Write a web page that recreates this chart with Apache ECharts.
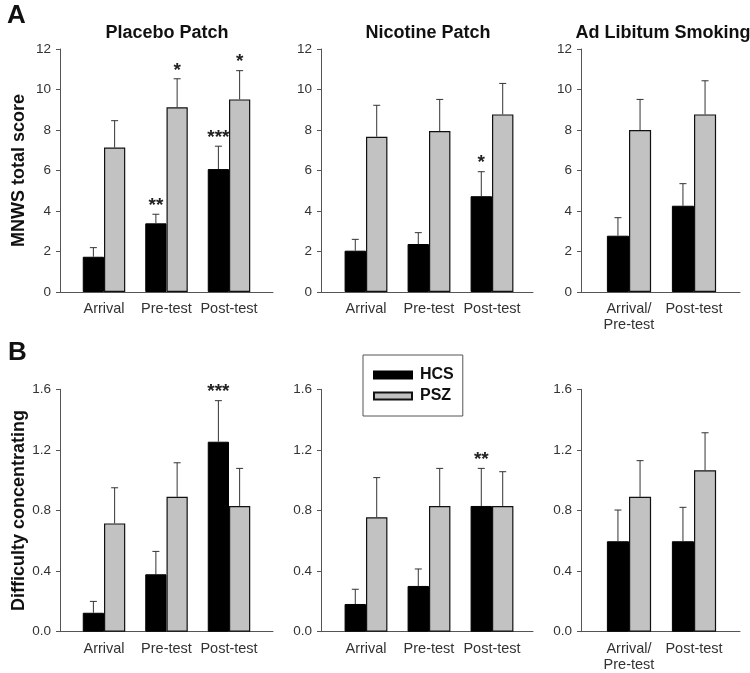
<!DOCTYPE html>
<html><head><meta charset="utf-8">
<script src="https://cdn.jsdelivr.net/npm/echarts@6/dist/echarts.min.js"></script>
<style>html,body{margin:0;padding:0;background:#fff}#c{width:750px;height:673px}</style>
</head><body><div id="c"></div>
<script>
// ---------- data ----------
const catsPatch = ['Arrival', 'Pre-test', 'Post-test'];
const catsAdLib = ['Arrival/\nPre-test', 'Post-test'];
const panelTitles = ['Placebo Patch', 'Nicotine Patch', 'Ad Libitum Smoking'];
const rowNames = ['MNWS total score', 'Difficulty concentrating'];
const mnwsTicks = [0, 12, 2];       // min, max, interval
const diffTicks = [0, 1.6, 0.4];

// MNWS total score (mean, SEM)
const mnwsPlaceboHCS = [1.74, 3.39, 6.07];
const mnwsPlaceboHCSErr = [0.45, 0.45, 1.13];
const mnwsPlaceboPSZ = [7.13, 9.12, 9.51];
const mnwsPlaceboPSZErr = [1.33, 1.41, 1.42];
const mnwsNicotineHCS = [2.04, 2.37, 4.73];
const mnwsNicotineHCSErr = [0.56, 0.56, 1.21];
const mnwsNicotinePSZ = [7.67, 7.95, 8.77];
const mnwsNicotinePSZErr = [1.55, 1.56, 1.53];
const mnwsAdLibHCS = [2.78, 4.26];
const mnwsAdLibHCSErr = [0.89, 1.09];
const mnwsAdLibPSZ = [8.0, 8.77];
const mnwsAdLibPSZErr = [1.51, 1.66];

// Difficulty concentrating (mean, SEM)
const diffPlaceboHCS = [0.125, 0.379, 1.254];
const diffPlaceboHCSErr = [0.075, 0.151, 0.271];
const diffPlaceboPSZ = [0.715, 0.89, 0.83];
const diffPlaceboPSZErr = [0.235, 0.225, 0.248];
const diffNicotineHCS = [0.183, 0.302, 0.83];
const diffNicotineHCSErr = [0.097, 0.112, 0.248];
const diffNicotinePSZ = [0.755, 0.83, 0.83];
const diffNicotinePSZErr = [0.262, 0.248, 0.226];
const diffAdLibHCS = [0.597, 0.597];
const diffAdLibHCSErr = [0.206, 0.224];
const diffAdLibPSZ = [0.89, 1.065];
const diffAdLibPSZErr = [0.239, 0.248];

// significance markers
const sigMnwsPlaceboHCS = ['', '**', '***'];
const sigMnwsPlaceboPSZ = ['', '*', '*'];
const sigMnwsNicotineHCS = ['', '', '*'];
const sigDiffPlaceboHCS = ['', '', '***'];
const sigDiffNicotineHCS = ['', '', '**'];
const noSig3 = ['', '', ''];
const noSig2 = ['', ''];

// ---------- layout ----------
const FONT = '"Liberation Sans", Arial, sans-serif';
const colDefs = [
  {axis: 60, left: 72.75, width: 187.5, frameW: 213, titleX: 167},
  {axis: 321, left: 334.5, width: 189, frameW: 212, titleX: 428},
  {axis: 581, left: 596.5, width: 130, frameW: 159, titleX: 663}
];
const rowDefs = [
  {top: 49, height: 243, ticks: mnwsTicks, dec: 0},
  {top: 389.3, height: 242.4, ticks: diffTicks, dec: 1}
];

const panels = [
  {row: 0, col: 0, cats: catsPatch, hcs: mnwsPlaceboHCS, hcsErr: mnwsPlaceboHCSErr, psz: mnwsPlaceboPSZ, pszErr: mnwsPlaceboPSZErr, hcsSig: sigMnwsPlaceboHCS, pszSig: sigMnwsPlaceboPSZ},
  {row: 0, col: 1, cats: catsPatch, hcs: mnwsNicotineHCS, hcsErr: mnwsNicotineHCSErr, psz: mnwsNicotinePSZ, pszErr: mnwsNicotinePSZErr, hcsSig: sigMnwsNicotineHCS, pszSig: noSig3},
  {row: 0, col: 2, cats: catsAdLib, hcs: mnwsAdLibHCS, hcsErr: mnwsAdLibHCSErr, psz: mnwsAdLibPSZ, pszErr: mnwsAdLibPSZErr, hcsSig: noSig2, pszSig: noSig2},
  {row: 1, col: 0, cats: catsPatch, hcs: diffPlaceboHCS, hcsErr: diffPlaceboHCSErr, psz: diffPlaceboPSZ, pszErr: diffPlaceboPSZErr, hcsSig: sigDiffPlaceboHCS, pszSig: noSig3},
  {row: 1, col: 1, cats: catsPatch, hcs: diffNicotineHCS, hcsErr: diffNicotineHCSErr, psz: diffNicotinePSZ, pszErr: diffNicotinePSZErr, hcsSig: sigDiffNicotineHCS, pszSig: noSig3},
  {row: 1, col: 2, cats: catsAdLib, hcs: diffAdLibHCS, hcsErr: diffAdLibHCSErr, psz: diffAdLibPSZ, pszErr: diffAdLibPSZErr, hcsSig: noSig2, pszSig: noSig2}
];

const AXIS_COLOR = '#555';
const TEXT_COLOR = '#333';
const HCS_COLOR = '#000000';
const PSZ_COLOR = '#c2c2c2';
const BAR_W = '34%';
const HALF = 0.17;

const grid = [], xAxis = [], yAxis = [], series = [];

function errSeries(gi, vals, errs, sigs, off) {
  return {
    type: 'custom', xAxisIndex: gi, yAxisIndex: gi, z: 5, silent: true,
    data: vals.map((v, k) => [k, v, errs[k]]),
    renderItem: function (params, api) {
      const band = api.size([1, 0])[0];
      const c0 = api.coord([api.value(0), api.value(1)]);
      const c1 = api.coord([api.value(0), api.value(1) + api.value(2)]);
      const x = c0[0] + off * band;
      const st = {stroke: '#333', lineWidth: 1};
      const children = [
        {type: 'line', shape: {x1: x, y1: c0[1], x2: x, y2: c1[1]}, style: st},
        {type: 'line', shape: {x1: x - 3.5, y1: c1[1], x2: x + 3.5, y2: c1[1]}, style: st}
      ];
      const s = sigs[params.dataIndex];
      if (s) {
        children.push({type: 'text', x: x, y: c1[1] + 1,
          style: {text: s, textAlign: 'center', textVerticalAlign: 'bottom',
            font: 'bold 19px ' + FONT, fill: '#222'}});
      }
      return {type: 'group', children: children};
    }
  };
}

panels.forEach((p, i) => {
  const c = colDefs[p.col], r = rowDefs[p.row];
  const gi = 2 * i, fi = 2 * i + 1;
  grid.push({left: c.left, width: c.width, top: r.top, height: r.height, containLabel: false});
  grid.push({left: c.axis, width: c.frameW, top: r.top, height: r.height, containLabel: false});
  xAxis.push({
    type: 'category', gridIndex: gi, data: p.cats,
    axisLine: {show: false}, axisTick: {show: false}, splitLine: {show: false},
    axisLabel: {interval: 0, margin: 9, color: TEXT_COLOR, fontFamily: FONT, fontSize: 14.5, lineHeight: 16}
  });
  xAxis.push({
    type: 'value', gridIndex: fi, min: 0, max: 1,
    axisLine: {show: true, onZero: false, lineStyle: {color: AXIS_COLOR, width: 1}},
    axisTick: {show: false}, axisLabel: {show: false}, splitLine: {show: false}
  });
  yAxis.push({
    type: 'value', gridIndex: gi, min: r.ticks[0], max: r.ticks[1], interval: r.ticks[2],
    offset: c.left - c.axis,
    axisLine: {show: true, lineStyle: {color: AXIS_COLOR, width: 1}},
    axisTick: {show: true, length: 4, lineStyle: {color: AXIS_COLOR}},
    splitLine: {show: false},
    axisLabel: {margin: 9, color: TEXT_COLOR, fontFamily: FONT, fontSize: 13.5,
      formatter: v => v.toFixed(r.dec)},
    name: p.col === 0 ? rowNames[p.row] : '',
    nameLocation: 'middle', nameGap: 32,
    nameTextStyle: {fontFamily: FONT, fontSize: 18, fontWeight: 'bold', color: '#111'}
  });
  yAxis.push({type: 'value', gridIndex: fi, min: 0, max: 1, show: false});
  series.push({
    name: 'HCS', type: 'bar', xAxisIndex: gi, yAxisIndex: gi, data: p.hcs,
    barWidth: BAR_W, barGap: '0%',
    itemStyle: {color: HCS_COLOR, borderColor: '#000', borderWidth: 1}
  });
  series.push({
    name: 'PSZ', type: 'bar', xAxisIndex: gi, yAxisIndex: gi, data: p.psz,
    barWidth: BAR_W, barGap: '0%',
    itemStyle: {color: PSZ_COLOR, borderColor: '#111', borderWidth: 1.2}
  });
  series.push(errSeries(gi, p.hcs, p.hcsErr, p.hcsSig, -HALF));
  series.push(errSeries(gi, p.psz, p.pszErr, p.pszSig, HALF));
});

const graphic = panelTitles.map((t, k) => ({
  type: 'text', x: colDefs[k].titleX, y: 33,
  style: {text: t, textAlign: 'center', textVerticalAlign: 'middle', font: 'bold 18px ' + FONT, fill: '#111'}
}));
graphic.push({type: 'text', x: 7, y: 16, style: {text: 'A', textVerticalAlign: 'middle', font: 'bold 26px ' + FONT, fill: '#111'}});
graphic.push({type: 'text', x: 8, y: 353, style: {text: 'B', textVerticalAlign: 'middle', font: 'bold 26px ' + FONT, fill: '#111'}});

const chart = echarts.init(document.getElementById('c'));
chart.setOption({
  animation: false,
  backgroundColor: '#fff',
  grid, xAxis, yAxis, series, graphic,
  legend: {
    data: ['HCS', 'PSZ'], orient: 'vertical', left: 363, top: 355,
    icon: 'rect', itemWidth: 38, itemHeight: 7, itemGap: 5,
    padding: [12, 9, 12, 10], borderColor: '#555', borderWidth: 1, borderRadius: 0,
    selectedMode: false,
    textStyle: {fontFamily: FONT, fontSize: 16, fontWeight: 'bold', color: '#111', lineHeight: 16, padding: [0, 0, 0, 3]}
  }
});
</script></body></html>
